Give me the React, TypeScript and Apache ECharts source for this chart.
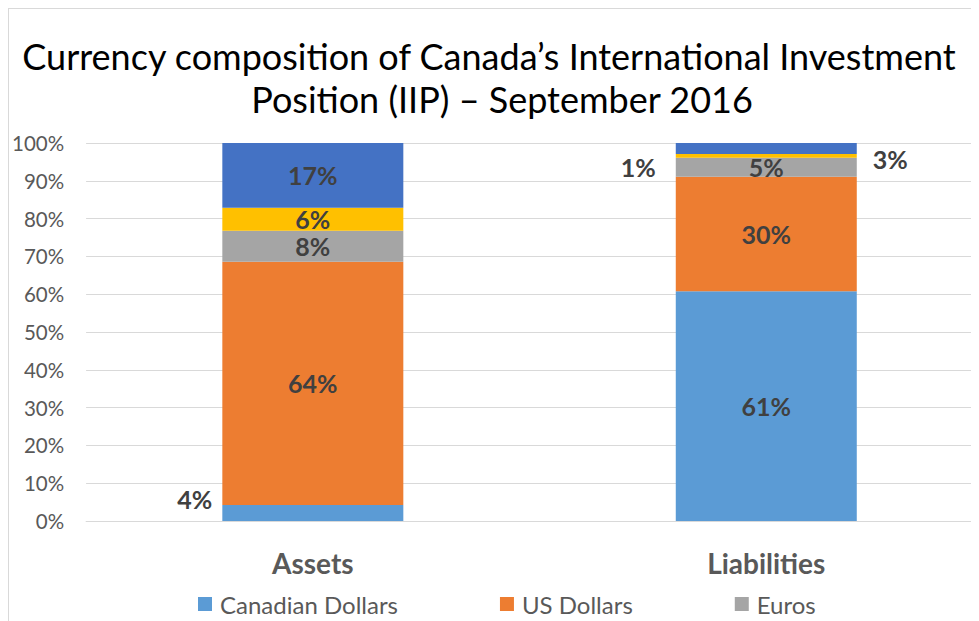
import React, { useEffect, useRef } from "react";
import * as echarts from "echarts";

const categories = ["Assets", "Liabilities"];
const seriesNames = ["Canadian Dollars", "US Dollars", "Euros", "Japanese Yen", "Other currencies"];
const canadianDollars = [4.2, 60.8];
const usDollars = [64.4, 30.3];
const euros = [8.2, 5.0];
const yen = [6.1, 1.0];
const other = [17.1, 2.9];
const yTicks = ["0%", "10%", "20%", "30%", "40%", "50%", "60%", "70%", "80%", "90%", "100%"];
const titleLines = ["Currency composition of Canada’s International Investment", "Position (IIP) – September 2016"];

const colors = ["#5B9BD5", "#ED7D31", "#A5A5A5", "#FFC000", "#4472C4"];
const FONT = "Lato, 'Open Sans', sans-serif";

// special label placement per [series][category]
const labelOverrides: Record<string, any> = {
  "0-0": { position: "left", distance: 10, offset: [0, -14] },
  "3-1": { position: "left", distance: 20, offset: [0, 11] },
  "4-1": { position: "right", distance: 16, offset: [0, 11] },
};

export default function App() {
  const ref = useRef<HTMLDivElement>(null);
  useEffect(() => {
    if (!ref.current) return;
    const chart = echarts.init(ref.current, undefined, { renderer: "svg" });
    const all = [canadianDollars, usDollars, euros, yen, other];
    const series = all.map((vals, si) => ({
      name: seriesNames[si],
      type: "bar",
      stack: "total",
      barWidth: 181,
      itemStyle: { color: colors[si] },
      label: {
        show: true,
        position: "inside",
        formatter: (p: any) => Math.round(p.value) + "%",
        fontFamily: FONT,
        fontWeight: "bold",
        fontSize: 25,
        color: "#404040",
      },
      data: vals.map((v, ci) => {
        const o = labelOverrides[si + "-" + ci];
        return o ? { value: v, label: o } : v;
      }),
    }));
    const titleStyle = {
      fontFamily: FONT,
      fontWeight: "normal",
      fontSize: 36,
      color: "#000000",
    };
    chart.setOption({
      animation: false,
      title: [
        { text: titleLines[0], left: 480, textAlign: "center", top: 29, padding: 0, textStyle: titleStyle },
        { text: titleLines[1], left: 493, textAlign: "center", top: 72, padding: 0, textStyle: titleStyle },
      ],
      legend: {
        data: seriesNames.slice(0, 3),
        left: 189,
        top: 583,
        padding: 0,
        icon: "rect",
        itemWidth: 14,
        itemHeight: 14,
        itemGap: 102,
        textStyle: { fontFamily: FONT, fontSize: 24, color: "#595959", padding: [0, 0, 0, 3] },
      },
      grid: { left: 76, right: 16, top: 134, bottom: 100, containLabel: false },
      xAxis: {
        type: "category",
        data: categories,
        axisTick: { show: false },
        axisLine: { show: true, lineStyle: { color: "#d9d9d9", width: 1 } },
        axisLabel: {
          margin: 28,
          fontFamily: FONT,
          fontWeight: "bold",
          fontSize: 28,
          color: "#595959",
        },
      },
      yAxis: {
        type: "value",
        min: 0,
        max: 100,
        interval: 10,
        axisLine: { show: false },
        axisTick: { show: false },
        splitLine: { lineStyle: { color: "#d9d9d9", width: 1 } },
        axisLabel: {
          margin: 22,
          fontFamily: FONT,
          fontSize: 20.5,
          color: "#595959",
          formatter: (v: number) => yTicks[Math.round(v / 10)],
        },
      },
      series,
    });
    return () => chart.dispose();
  }, []);
  return (
    <div
      style={{
        width: 971,
        height: 612,
        overflow: "hidden",
        borderLeft: "1px solid #d9d9d9",
        borderTop: "1px solid #d9d9d9",
      }}
    >
      <div ref={ref} style={{ width: 1000, height: 612 }} />
    </div>
  );
}
